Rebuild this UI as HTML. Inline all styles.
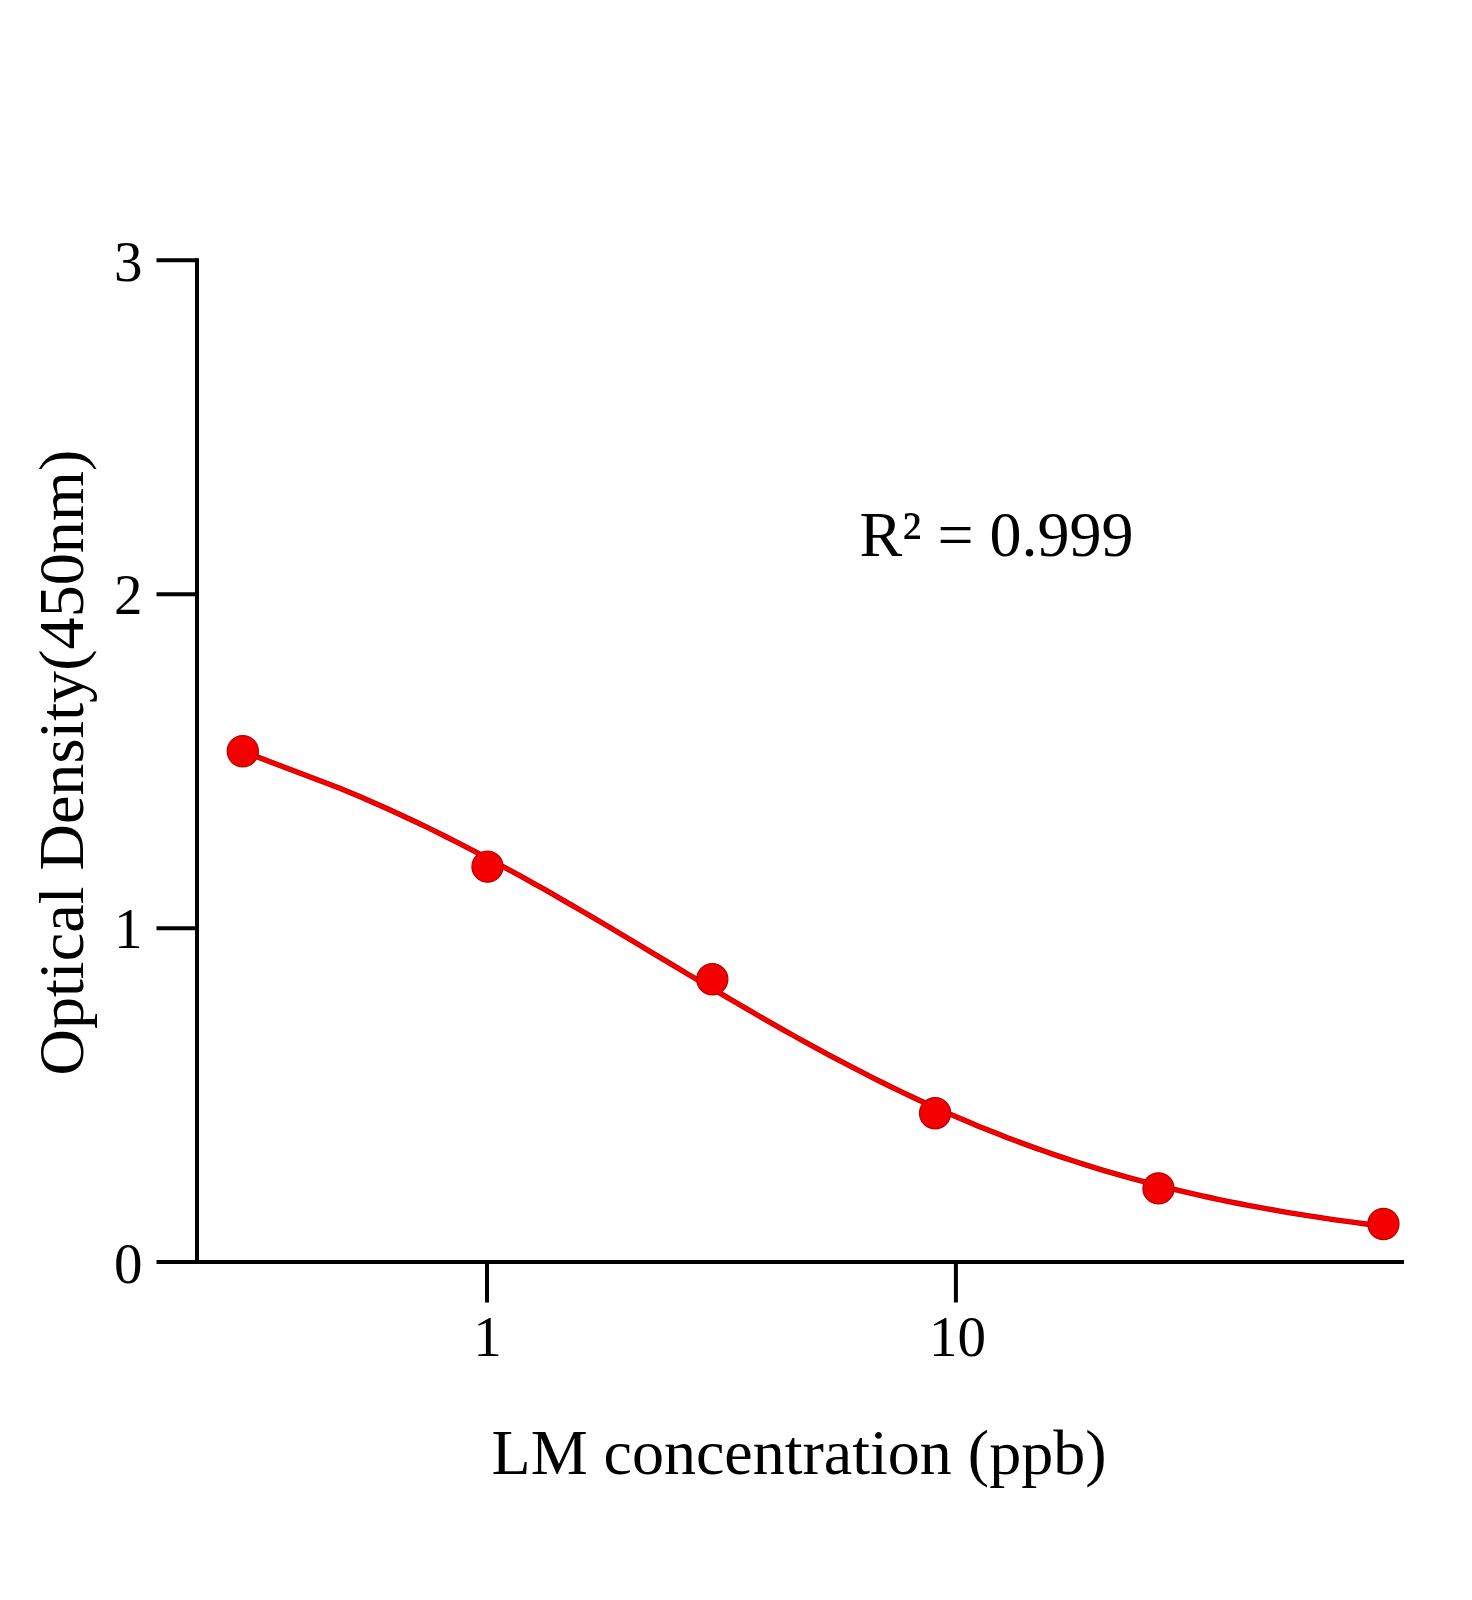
<!DOCTYPE html>
<html><head><meta charset="utf-8"><title>LM standard curve</title>
<style>
html,body{margin:0;padding:0;background:#fff;}
svg{display:block;}
text{font-family:"Liberation Serif","Times New Roman",serif;fill:#000;}
</style></head><body>
<svg width="1472" height="1600" viewBox="0 0 1472 1600">
<rect width="1472" height="1600" fill="#fff"/>
<g stroke="#000" stroke-width="4" fill="none" stroke-linecap="butt">
<path d="M197,258.3 V1264"/>
<path d="M156.5,1262 H1404"/>
<path d="M156.5,260.3 H197"/>
<path d="M156.5,594.3 H197"/>
<path d="M156.5,928.2 H197"/>
<path d="M487,1262 V1302.5"/>
<path d="M955.9,1262 V1302.5"/>
</g>
<g font-size="57" text-anchor="end">
<text x="142.5" y="280.5">3</text>
<text x="142.5" y="614.3">2</text>
<text x="142.5" y="948.2">1</text>
<text x="142.5" y="1282.6">0</text>
</g>
<g font-size="57" text-anchor="middle">
<text x="487.5" y="1356.3">1</text>
<text x="957.5" y="1356.3">10</text>
</g>
<text x="799" y="1473.6" font-size="64" text-anchor="middle">LM concentration (ppb)</text>
<text transform="translate(83.1,762.6) rotate(-90)" font-size="64.2" text-anchor="middle">Optical Density(450nm)</text>
<text x="996.5" y="556" font-size="64" text-anchor="middle">R² = 0.999</text>
<path d="M242.8,751.5 L330.7,784.7 L340.4,788.6 L350.0,792.6 L359.7,796.6 L369.3,800.8 L379.0,805.0 L388.6,809.3 L398.3,813.7 L408.0,818.2 L417.6,822.8 L427.3,827.4 L436.9,832.2 L446.6,837.0 L456.3,841.8 L465.9,846.8 L475.6,851.8 L485.2,856.9 L494.9,862.1 L504.5,867.3 L514.2,872.6 L523.9,877.9 L533.5,883.3 L543.2,888.7 L552.8,894.2 L562.5,899.8 L572.1,905.4 L581.8,911.0 L591.5,916.6 L601.1,922.3 L610.8,928.0 L620.4,933.8 L630.1,939.5 L639.7,945.3 L649.4,951.1 L659.1,956.9 L668.7,962.6 L678.4,968.4 L688.0,974.2 L697.7,979.9 L707.4,985.7 L717.0,991.4 L726.7,997.1 L736.3,1002.8 L746.0,1008.4 L755.6,1014.0 L765.3,1019.6 L775.0,1025.1 L784.6,1030.6 L794.3,1036.0 L803.9,1041.3 L813.6,1046.6 L823.2,1051.9 L832.9,1057.1 L842.6,1062.2 L852.2,1067.2 L861.9,1072.2 L871.5,1077.1 L881.2,1082.0 L890.9,1086.7 L900.5,1091.4 L910.2,1096.0 L919.8,1100.5 L929.5,1104.9 L939.1,1109.3 L948.8,1113.6 L958.5,1117.7 L968.1,1121.8 L977.8,1125.9 L987.4,1129.8 L997.1,1133.6 L1006.7,1137.4 L1016.4,1141.0 L1026.1,1144.6 L1035.7,1148.1 L1045.4,1151.5 L1055.0,1154.9 L1064.7,1158.1 L1074.4,1161.3 L1084.0,1164.4 L1093.7,1167.4 L1103.3,1170.3 L1113.0,1173.1 L1122.6,1175.9 L1132.3,1178.6 L1142.0,1181.2 L1151.6,1183.7 L1161.3,1186.2 L1170.9,1188.6 L1180.6,1190.9 L1190.2,1193.2 L1199.9,1195.4 L1209.6,1197.5 L1219.2,1199.6 L1228.9,1201.6 L1238.5,1203.5 L1248.2,1205.4 L1257.8,1207.2 L1267.5,1208.9 L1277.2,1210.7 L1286.8,1212.3 L1296.5,1213.9 L1306.1,1215.4 L1315.8,1216.9 L1325.5,1218.4 L1335.1,1219.8 L1344.8,1221.1 L1354.4,1222.4 L1364.1,1223.7 L1373.7,1224.9 L1383.4,1226.1" fill="none" stroke="#c00000" stroke-width="5.4" stroke-linejoin="round" stroke-linecap="round"/>
<path d="M242.8,751.5 L330.7,784.7 L340.4,788.6 L350.0,792.6 L359.7,796.6 L369.3,800.8 L379.0,805.0 L388.6,809.3 L398.3,813.7 L408.0,818.2 L417.6,822.8 L427.3,827.4 L436.9,832.2 L446.6,837.0 L456.3,841.8 L465.9,846.8 L475.6,851.8 L485.2,856.9 L494.9,862.1 L504.5,867.3 L514.2,872.6 L523.9,877.9 L533.5,883.3 L543.2,888.7 L552.8,894.2 L562.5,899.8 L572.1,905.4 L581.8,911.0 L591.5,916.6 L601.1,922.3 L610.8,928.0 L620.4,933.8 L630.1,939.5 L639.7,945.3 L649.4,951.1 L659.1,956.9 L668.7,962.6 L678.4,968.4 L688.0,974.2 L697.7,979.9 L707.4,985.7 L717.0,991.4 L726.7,997.1 L736.3,1002.8 L746.0,1008.4 L755.6,1014.0 L765.3,1019.6 L775.0,1025.1 L784.6,1030.6 L794.3,1036.0 L803.9,1041.3 L813.6,1046.6 L823.2,1051.9 L832.9,1057.1 L842.6,1062.2 L852.2,1067.2 L861.9,1072.2 L871.5,1077.1 L881.2,1082.0 L890.9,1086.7 L900.5,1091.4 L910.2,1096.0 L919.8,1100.5 L929.5,1104.9 L939.1,1109.3 L948.8,1113.6 L958.5,1117.7 L968.1,1121.8 L977.8,1125.9 L987.4,1129.8 L997.1,1133.6 L1006.7,1137.4 L1016.4,1141.0 L1026.1,1144.6 L1035.7,1148.1 L1045.4,1151.5 L1055.0,1154.9 L1064.7,1158.1 L1074.4,1161.3 L1084.0,1164.4 L1093.7,1167.4 L1103.3,1170.3 L1113.0,1173.1 L1122.6,1175.9 L1132.3,1178.6 L1142.0,1181.2 L1151.6,1183.7 L1161.3,1186.2 L1170.9,1188.6 L1180.6,1190.9 L1190.2,1193.2 L1199.9,1195.4 L1209.6,1197.5 L1219.2,1199.6 L1228.9,1201.6 L1238.5,1203.5 L1248.2,1205.4 L1257.8,1207.2 L1267.5,1208.9 L1277.2,1210.7 L1286.8,1212.3 L1296.5,1213.9 L1306.1,1215.4 L1315.8,1216.9 L1325.5,1218.4 L1335.1,1219.8 L1344.8,1221.1 L1354.4,1222.4 L1364.1,1223.7 L1373.7,1224.9 L1383.4,1226.1" fill="none" stroke="#f50000" stroke-width="3.8" stroke-linejoin="round" stroke-linecap="round"/>
<g fill="#f50000" stroke="#b80000" stroke-width="1.2">
<circle cx="242.8" cy="751.2" r="15.6"/>
<circle cx="487.5" cy="866.6" r="15.6"/>
<circle cx="712.3" cy="979.2" r="15.6"/>
<circle cx="935.1" cy="1113.2" r="15.6"/>
<circle cx="1158.5" cy="1188.4" r="15.6"/>
<circle cx="1383.4" cy="1224.0" r="15.6"/>
</g>
</svg>
</body></html>
